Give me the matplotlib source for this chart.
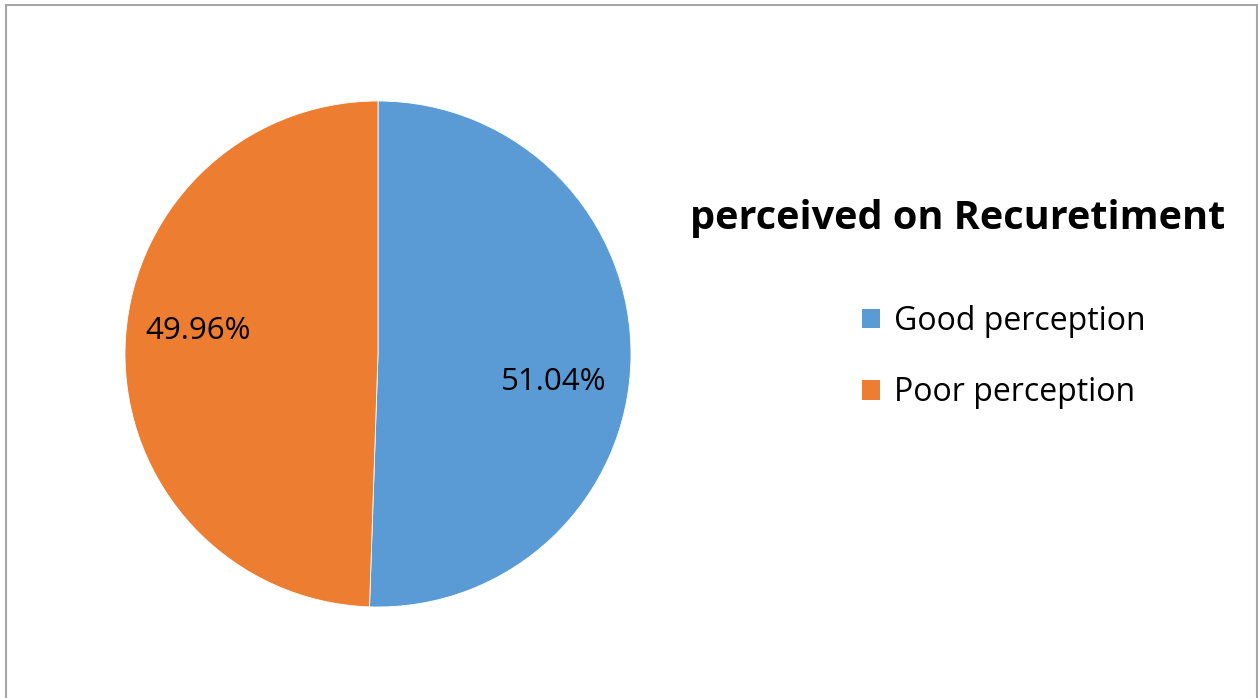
import matplotlib
matplotlib.use("Agg")
import matplotlib.pyplot as plt
from matplotlib.patches import Rectangle

categories = ["Good perception", "Poor perception"]
values = [51.04, 49.96]
value_labels = ["51.04%", "49.96%"]
colors = ["#5B9BD5", "#ED7D31"]
title = "perceived on Recuretiment"

plt.rcParams['font.family'] = ['Open Sans', 'DejaVu Sans']

W, H = 1258, 698
fig = plt.figure(figsize=(W / 100, H / 100), dpi=100)

# border
fig.patches.append(Rectangle((6.5 / W, -0.01), (1256.5 - 6.5) / W, (H - 4.5) / H + 0.01,
                             transform=fig.transFigure, fill=False,
                             edgecolor="#a6a6a6", linewidth=1.5))

cx, cy, r = 378, 354, 253
ax = fig.add_axes([(cx - r) / W, (H - cy - r) / H, 2 * r / W, 2 * r / H])
wedges, texts = ax.pie(values, colors=colors, startangle=90, counterclock=False,
                       radius=1.0, wedgeprops=dict(edgecolor="white", linewidth=0.6))
ax.set_xlim(-1, 1)
ax.set_ylim(-1, 1)
ax.set_aspect("equal")
ax.axis("off")

label_pos = [(0.696, -0.11), (-0.71, 0.09)]
for lab, (x, y) in zip(value_labels, label_pos):
    ax.text(x, y, lab, ha="center", va="center", fontsize=22.5, color="#000000")

fig.text(958 / W, 1 - 219 / H, title, ha="center", va="center",
         fontsize=28.5, fontweight="bold", color="#000000")

handles = [Rectangle((0, 0), 1, 1, facecolor=c, edgecolor="none") for c in colors]
leg = fig.legend(handles, categories, loc="center left",
                 bbox_to_anchor=(862 / W, 1 - 357 / H), frameon=False,
                 fontsize=23, handlelength=0.56, handleheight=0.56,
                 handletextpad=0.44, labelspacing=1.2,
                 borderpad=0, borderaxespad=0)

fig.savefig("out.png", dpi=100, facecolor="white")
